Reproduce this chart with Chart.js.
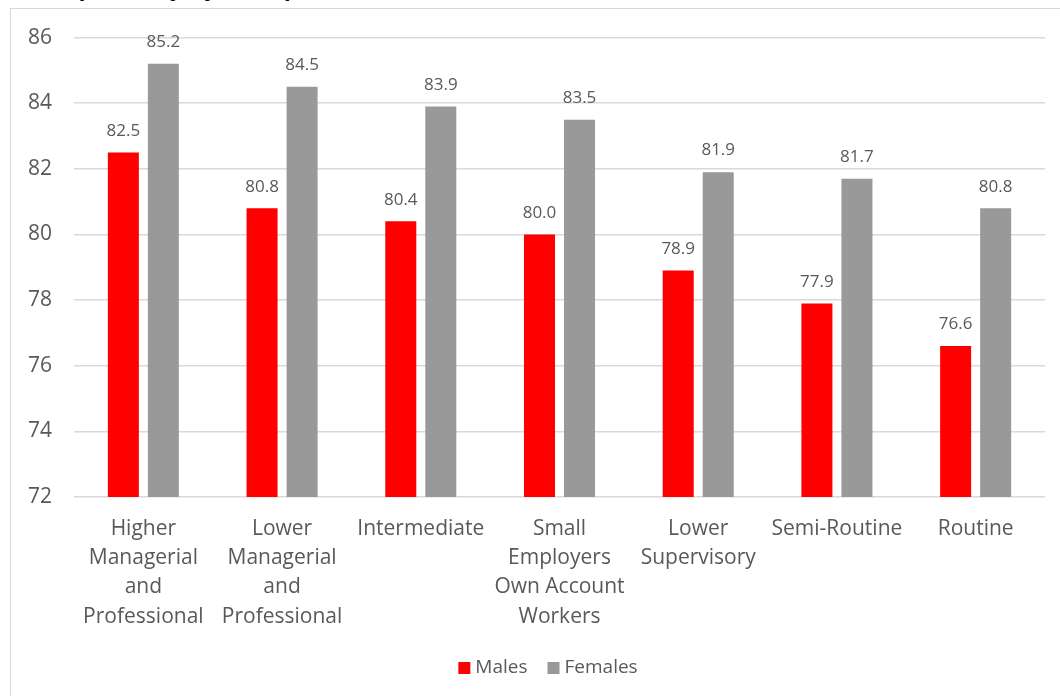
<!DOCTYPE html>
<html>
<head>
<meta charset="utf-8">
<script src="https://cdn.jsdelivr.net/npm/chart.js@4.4.0/dist/chart.umd.min.js"></script>
<style>
  body { margin: 0; background: #fff; overflow: hidden; }
  #title { position: absolute; left: 0; width: 340px; top: -25px; text-align: right;
           font: bold 24px "Liberation Sans", sans-serif; line-height: 26px; color: #000; white-space: nowrap; }
  #box { position: absolute; left: 10px; top: 8px; width: 1060px; height: 700px;
         border: 1px solid #d9d9d9; box-sizing: border-box; }
  #wrap { position: absolute; left: 0; top: -6px; width: 1050px; height: 693px; }
</style>
</head>
<body>
<div id="title">Life Expectancy by Occupation</div>
<div id="box"><div id="wrap"><canvas id="chart"></canvas></div></div>
<script>
const categories = [
    ['Higher', 'Managerial', 'and', 'Professional'],
    ['Lower', 'Managerial', 'and', 'Professional'],
    ['Intermediate'],
    ['Small', 'Employers', 'Own Account', 'Workers'],
    ['Lower', 'Supervisory'],
    ['Semi-Routine'],
    ['Routine']
];
const males = [82.5, 80.8, 80.4, 80.0, 78.9, 77.9, 76.6];
const females = [85.2, 84.5, 83.9, 83.5, 81.9, 81.7, 80.8];

const textColor = '#595959';
const fontFamily = '"Open Sans", sans-serif';

// draws the value above each bar
const valueLabels = {
    id: 'valueLabels',
    afterDatasetsDraw(chart) {
        const ctx = chart.ctx;
        ctx.save();
        ctx.fillStyle = textColor;
        ctx.font = '17px ' + fontFamily;
        ctx.textAlign = 'center';
        ctx.textBaseline = 'bottom';
        chart.data.datasets.forEach((ds, i) => {
            chart.getDatasetMeta(i).data.forEach((bar, j) => {
                ctx.fillText(ds.data[j].toFixed(1), bar.x, bar.y - 13);
            });
        });
        ctx.restore();
    }
};

// simple legend under the axis, tighter box/text gap than the built-in one
const bottomLegend = {
    id: 'bottomLegend',
    afterDraw(chart) {
        const ctx = chart.ctx;
        ctx.save();
        ctx.font = '19px ' + fontFamily;
        ctx.textBaseline = 'middle';
        const items = chart.data.datasets.map(ds => ({
            text: ds.label, color: ds.backgroundColor, w: 12 + 5 + ctx.measureText(ds.label).width
        }));
        const gap = 20;
        const total = items.reduce((a, it) => a + it.w, 0) + gap * (items.length - 1);
        let x = 537 - total / 2;
        const y = 665;
        items.forEach(it => {
            ctx.fillStyle = it.color;
            ctx.fillRect(x, y - 6, 12, 12);
            ctx.fillStyle = textColor;
            ctx.fillText(it.text, x + 17, y);
            x += it.w + gap;
        });
        ctx.restore();
    }
};

const ctx = document.getElementById('chart').getContext('2d');
new Chart(ctx, {
    type: 'bar',
    data: {
        labels: categories,
        datasets: [
            { label: 'Males', data: males, backgroundColor: '#ff0000' },
            { label: 'Females', data: females, backgroundColor: '#999999' }
        ]
    },
    options: {
        responsive: true,
        maintainAspectRatio: false,
        animation: false,
        datasets: {
            bar: { categoryPercentage: 0.577, barPercentage: 0.775 }
        },
        layout: { padding: { top: 23, right: 16, bottom: 10, left: 0 } },
        plugins: {
            legend: { display: false },
            tooltip: { enabled: false }
        },
        scales: {
            x: {
                grid: { display: false },
                border: { display: false },
                ticks: {
                    color: textColor,
                    font: { family: fontFamily, size: 21, lineHeight: 1.4 },
                    padding: 9,
                    maxRotation: 0,
                    autoSkip: false
                },
                afterFit: s => { s.height = 189; }
            },
            y: {
                min: 72,
                max: 86,
                ticks: {
                    stepSize: 2,
                    color: textColor,
                    font: { family: fontFamily, size: 21 },
                    padding: 22
                },
                grid: { color: '#d9d9d9', lineWidth: 1.5, drawTicks: false },
                border: { display: false },
                afterFit: s => { s.width = 63; }
            }
        }
    },
    plugins: [valueLabels, bottomLegend]
});
</script>
</body>
</html>
